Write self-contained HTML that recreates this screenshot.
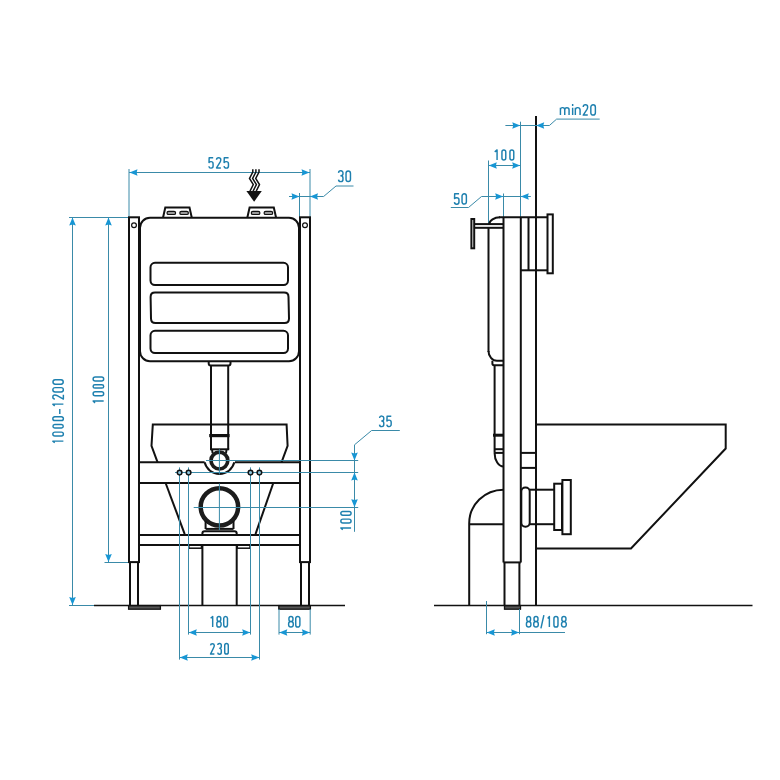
<!DOCTYPE html>
<html><head><meta charset="utf-8"><style>
html,body{margin:0;padding:0;background:#fff;}
svg{display:block;}
text{font-family:"Liberation Sans",sans-serif;}
</style></head><body>
<svg width="780" height="780" viewBox="0 0 780 780">
<rect width="780" height="780" fill="#fff"/>
<line x1="129" y1="169" x2="129" y2="217" stroke="#3a8aa8" stroke-width="1"/>
<line x1="310" y1="169" x2="310" y2="217" stroke="#3a8aa8" stroke-width="1"/>
<line x1="129" y1="172.5" x2="310" y2="172.5" stroke="#3a8aa8" stroke-width="1"/>
<polygon points="129.5,172.5 137.5,169.2 136.6,172.5 137.5,175.8" fill="#1796d4"/>
<polygon points="309.5,172.5 301.5,169.2 302.4,172.5 301.5,175.8" fill="#1796d4"/>
<path d="M213.18,157.72 H209.17 L209.02,162.52 C209.52,161.72 210.22,161.62 211,161.62 C212.68,161.62 213.08,162.52 213.08,163.72 V165.9 A2.08,2.08 0 0 1 208.92,166.21 M216.53,159.85 A2.12,2.12 0 0 1 220.78,159.85 C220.78,160.75 220.53,161.35 220.08,162.15 L216.53,167.97 H220.88 M228.57,157.72 H224.28 L224.12,162.52 C224.62,161.72 225.33,161.62 226.25,161.62 C228.07,161.62 228.47,162.52 228.47,163.72 V165.75 A2.22,2.22 0 0 1 224.03,166.08" stroke="#1e80af" stroke-width="1.45" fill="none" stroke-linecap="butt" stroke-linejoin="round"/>
<line x1="299.5" y1="193" x2="299.5" y2="217" stroke="#3a8aa8" stroke-width="1"/>
<polyline points="289,196.5 323.6,196.5 336,186 353.5,186" stroke="#3a8aa8" stroke-width="1" fill="none" stroke-linejoin="miter"/>
<polygon points="299.5,196.5 291.5,193.2 292.4,196.5 291.5,199.8" fill="#1796d4"/>
<polygon points="310,196.5 318,193.2 317.1,196.5 318,199.8" fill="#1796d4"/>
<path d="M338.53,172.82 A2.22,2.18 0 0 1 342.97,173.15 V173.67 C342.97,174.88 342.07,175.78 340.39,175.78 M340.39,175.78 H340.75 C342.67,175.78 342.97,176.78 342.97,177.98 V179.25 A2.22,2.22 0 0 1 338.53,179.58 M346.03,173.26 V179.14 A2.22,2.34 0 0 0 350.47,179.14 V173.26 A2.22,2.34 0 0 0 346.03,173.26 Z" stroke="#1e80af" stroke-width="1.45" fill="none" stroke-linecap="butt" stroke-linejoin="round"/>
<line x1="69" y1="217.5" x2="129" y2="217.5" stroke="#3a8aa8" stroke-width="1"/>
<line x1="72.5" y1="217" x2="72.5" y2="605.5" stroke="#3a8aa8" stroke-width="1"/>
<polygon points="72.5,217.5 69.2,225.5 72.5,224.6 75.8,225.5" fill="#1796d4"/>
<polygon points="72.5,605 69.2,597 72.5,597.9 75.8,597" fill="#1796d4"/>
<line x1="108.5" y1="217" x2="108.5" y2="562.5" stroke="#3a8aa8" stroke-width="1"/>
<polygon points="108.5,217.5 105.2,225.5 108.5,224.6 111.8,225.5" fill="#1796d4"/>
<polygon points="108.5,562 105.2,554 108.5,554.9 111.8,554" fill="#1796d4"/>
<line x1="69" y1="605.5" x2="94" y2="605.5" stroke="#3a8aa8" stroke-width="1"/>
<line x1="104.5" y1="562.5" x2="129" y2="562.5" stroke="#3a8aa8" stroke-width="1"/>
<path d="M1.23,2.62 L2.88,0.72 V11.28 M8.03,2.75 V9.25 A1.92,2.02 0 0 0 11.88,9.25 V2.75 A1.92,2.02 0 0 0 8.03,2.75 Z M15.92,2.64 V9.36 A1.83,1.92 0 0 0 19.57,9.36 V2.64 A1.83,1.92 0 0 0 15.92,2.64 Z M23.53,2.64 V9.36 A1.82,1.92 0 0 0 27.17,9.36 V2.64 A1.82,1.92 0 0 0 23.53,2.64 Z M30.1,7.68 H34.9 M38.12,2.62 L39.88,0.72 V11.28 M44.93,2.8 A2.07,2.07 0 0 1 49.07,2.8 C49.07,3.7 48.82,4.3 48.37,5.1 L44.93,11.28 H49.17 M52.02,3.01 V8.99 A2.18,2.28 0 0 0 56.38,8.99 V3.01 A2.18,2.28 0 0 0 52.02,3.01 Z M59.73,3.06 V8.94 A2.23,2.34 0 0 0 64.18,8.94 V3.06 A2.23,2.34 0 0 0 59.73,3.06 Z" stroke="#1e80af" stroke-width="1.45" fill="none" stroke-linecap="butt" stroke-linejoin="round" transform="translate(52.1,444) rotate(-90)"/>
<path d="M1.12,2.62 L2.98,0.72 V11.28 M8.32,2.75 V9.25 A1.93,2.02 0 0 0 12.18,9.25 V2.75 A1.93,2.02 0 0 0 8.32,2.75 Z M15.92,2.48 V9.52 A1.67,1.76 0 0 0 19.27,9.52 V2.48 A1.67,1.76 0 0 0 15.92,2.48 Z M23.03,2.85 V9.15 A2.02,2.13 0 0 0 27.07,9.15 V2.85 A2.02,2.13 0 0 0 23.03,2.85 Z" stroke="#1e80af" stroke-width="1.45" fill="none" stroke-linecap="butt" stroke-linejoin="round" transform="translate(92.4,404) rotate(-90)"/>
<polyline points="252.8,169.2 252.8,172 249.5,178.4 253.3,184.6 250,191.2" stroke="#111" stroke-width="1.5" fill="none" stroke-linejoin="miter"/>
<polyline points="255.9,169.2 255.9,172 252.6,178.4 256.40000000000003,184.6 253.1,191.2" stroke="#111" stroke-width="1.5" fill="none" stroke-linejoin="miter"/>
<polyline points="259.0,169.2 259.0,172 255.7,178.4 259.5,184.6 256.2,191.2" stroke="#111" stroke-width="1.5" fill="none" stroke-linejoin="miter"/>
<polygon points="246.4,191 261.8,191 254.1,201.8" fill="#111"/>
<polyline points="163,217.8 165.3,207.6 189.5,207.6 191.8,217.8" stroke="#111" stroke-width="2" fill="none" stroke-linejoin="miter"/>
<rect x="167" y="211.3" width="8.6" height="3.2" rx="1.6" stroke="#111" stroke-width="1.2" fill="#999"/>
<rect x="179.8" y="211.3" width="8.6" height="3.2" rx="1.6" stroke="#111" stroke-width="1.2" fill="#999"/>
<polyline points="247.3,217.8 249.60000000000002,207.6 273.8,207.6 276.1,217.8" stroke="#111" stroke-width="2" fill="none" stroke-linejoin="miter"/>
<rect x="251.3" y="211.3" width="8.6" height="3.2" rx="1.6" stroke="#111" stroke-width="1.2" fill="#999"/>
<rect x="264.1" y="211.3" width="8.6" height="3.2" rx="1.6" stroke="#111" stroke-width="1.2" fill="#999"/>
<rect x="129" y="217.3" width="10" height="344.8" rx="0" stroke="#111" stroke-width="2" fill="none"/>
<line x1="130" y1="562" x2="130" y2="605.5" stroke="#111" stroke-width="2"/>
<line x1="138" y1="562" x2="138" y2="605.5" stroke="#111" stroke-width="2"/>
<circle cx="134" cy="225.2" r="2.4" stroke="#111" stroke-width="1.2" fill="none"/>
<rect x="300" y="217.3" width="10" height="344.8" rx="0" stroke="#111" stroke-width="2" fill="none"/>
<line x1="301" y1="562" x2="301" y2="605.5" stroke="#111" stroke-width="2"/>
<line x1="309" y1="562" x2="309" y2="605.5" stroke="#111" stroke-width="2"/>
<circle cx="305" cy="225.2" r="2.4" stroke="#111" stroke-width="1.2" fill="none"/>
<rect x="128.6" y="605.6" width="31.8" height="3.6" rx="0" stroke="#111" stroke-width="1.3" fill="#555"/>
<rect x="278.8" y="605.6" width="31.6" height="3.6" rx="0" stroke="#111" stroke-width="1.3" fill="#555"/>
<line x1="94" y1="605.5" x2="345" y2="605.5" stroke="#111" stroke-width="1.7"/>
<rect x="140" y="217.8" width="159" height="143.4" rx="10" stroke="#111" stroke-width="2" fill="none"/>
<rect x="150.5" y="262.8" width="137.5" height="22.2" rx="4.5" stroke="#111" stroke-width="2" fill="none"/>
<polyline points="" stroke="#111" stroke-width="2" fill="none" stroke-linejoin="miter"/>
<path d="M155,292.6 L284,292.6 Q288.5,292.6 288.5,297 L289,318.5 Q289,323 284.5,323 L155.5,323 Q151,323 151,318.5 L150.6,297 Q150.6,292.6 155,292.6 Z" stroke="#111" stroke-width="2" fill="none" />
<rect x="150.5" y="330.8" width="137.5" height="22.2" rx="4.5" stroke="#111" stroke-width="2" fill="none"/>
<path d="M208.7,361 L208.7,363.6 Q208.7,365.6 210.7,365.6 L228.5,365.6 Q230.5,365.6 230.5,363.6 L230.5,361" stroke="#111" stroke-width="2" fill="none" />
<line x1="211" y1="365.6" x2="211" y2="449.3" stroke="#111" stroke-width="2"/>
<line x1="228.2" y1="365.6" x2="228.2" y2="449.3" stroke="#111" stroke-width="2"/>
<line x1="210" y1="449.3" x2="229.2" y2="449.3" stroke="#111" stroke-width="2"/>
<line x1="209.2" y1="435.6" x2="229.6" y2="435.6" stroke="#111" stroke-width="3.2"/>
<polyline points="157.6,462.3 151.5,445.8 152.8,424.6 286.6,424.6 287.6,445.8 281.5,462.3" stroke="#111" stroke-width="2" fill="none" stroke-linejoin="miter"/>
<line x1="139" y1="462.3" x2="204.6" y2="462.3" stroke="#111" stroke-width="2"/>
<line x1="235" y1="462.3" x2="300" y2="462.3" stroke="#111" stroke-width="2"/>
<path d="M204.6,462.3 A15.3,15.3 0 0 0 234.3,462.3" stroke="#111" stroke-width="2" fill="none" />
<line x1="139" y1="483" x2="300" y2="483" stroke="#111" stroke-width="2"/>
<circle cx="219.4" cy="460.6" r="8.4" stroke="#1c1c1c" stroke-width="3.7" fill="#fff"/>
<line x1="212" y1="449.3" x2="212.6" y2="453" stroke="#111" stroke-width="2"/>
<line x1="226.6" y1="449.3" x2="226" y2="453" stroke="#111" stroke-width="2"/>
<line x1="165.6" y1="483" x2="184.7" y2="534.2" stroke="#111" stroke-width="2"/>
<line x1="273.3" y1="483" x2="255.5" y2="534.2" stroke="#111" stroke-width="2"/>
<circle cx="219.4" cy="506.9" r="18.7" stroke="#1c1c1c" stroke-width="4.5" fill="#fff"/>
<path d="M205.6,521 L205.6,529 M233.5,521 L233.5,529" stroke="#111" stroke-width="2" fill="none" />
<line x1="205.6" y1="528.9" x2="233.5" y2="528.9" stroke="#111" stroke-width="2"/>
<path d="M202.4,535 L202.4,533.6 Q202.4,531.3 204.7,531.3 L234.4,531.3 Q236.7,531.3 236.7,533.6 L236.7,535" stroke="#111" stroke-width="2" fill="none" />
<line x1="139" y1="535" x2="300" y2="535" stroke="#111" stroke-width="2"/>
<line x1="139" y1="545" x2="300" y2="545" stroke="#111" stroke-width="2"/>
<line x1="202.4" y1="545" x2="202.4" y2="605.5" stroke="#111" stroke-width="2"/>
<line x1="236.7" y1="545" x2="236.7" y2="605.5" stroke="#111" stroke-width="2"/>
<rect x="188.8" y="545" width="12.7" height="3.2" rx="0" stroke="#111" stroke-width="1.5" fill="none"/>
<rect x="237.3" y="545" width="12.7" height="3.2" rx="0" stroke="#111" stroke-width="1.5" fill="none"/>
<line x1="219.4" y1="449.3" x2="219.4" y2="474.5" stroke="#3a8aa8" stroke-width="1"/>
<line x1="206" y1="460.5" x2="358.2" y2="460.5" stroke="#3a8aa8" stroke-width="1"/>
<line x1="175" y1="472.5" x2="358.2" y2="472.5" stroke="#3a8aa8" stroke-width="1"/>
<line x1="219.4" y1="483.5" x2="219.4" y2="530" stroke="#3a8aa8" stroke-width="1"/>
<line x1="193.7" y1="507.5" x2="358.2" y2="507.5" stroke="#3a8aa8" stroke-width="1"/>
<line x1="179.5" y1="467.4" x2="179.5" y2="659.6" stroke="#3a8aa8" stroke-width="1"/>
<line x1="259.5" y1="467.4" x2="259.5" y2="659.6" stroke="#3a8aa8" stroke-width="1"/>
<line x1="188.5" y1="467.4" x2="188.5" y2="634.6" stroke="#3a8aa8" stroke-width="1"/>
<line x1="250.5" y1="467.4" x2="250.5" y2="634.6" stroke="#3a8aa8" stroke-width="1"/>
<circle cx="179.6" cy="472.6" r="2.3" stroke="#111" stroke-width="1.5" fill="#8cc4dc"/>
<circle cx="188.6" cy="472.6" r="2.3" stroke="#111" stroke-width="1.5" fill="#8cc4dc"/>
<circle cx="250.5" cy="472.6" r="2.3" stroke="#111" stroke-width="1.5" fill="#8cc4dc"/>
<circle cx="259.4" cy="472.6" r="2.3" stroke="#111" stroke-width="1.5" fill="#8cc4dc"/>
<line x1="279" y1="609" x2="279" y2="634.6" stroke="#3a8aa8" stroke-width="1"/>
<line x1="310.2" y1="609" x2="310.2" y2="634.6" stroke="#3a8aa8" stroke-width="1"/>
<line x1="188.5" y1="632.5" x2="250.5" y2="632.5" stroke="#3a8aa8" stroke-width="1"/>
<polygon points="188.8,632.5 196.8,629.2 195.9,632.5 196.8,635.8" fill="#1796d4"/>
<polygon points="250.2,632.5 242.2,629.2 243.1,632.5 242.2,635.8" fill="#1796d4"/>
<line x1="179.5" y1="657.5" x2="259.5" y2="657.5" stroke="#3a8aa8" stroke-width="1"/>
<polygon points="179.8,657.5 187.8,654.2 186.9,657.5 187.8,660.8" fill="#1796d4"/>
<polygon points="259.2,657.5 251.2,654.2 252.1,657.5 251.2,660.8" fill="#1796d4"/>
<line x1="279" y1="632.5" x2="310.2" y2="632.5" stroke="#3a8aa8" stroke-width="1"/>
<polygon points="279.3,632.5 287.3,629.2 286.40000000000003,632.5 287.3,635.8" fill="#1796d4"/>
<polygon points="309.9,632.5 301.9,629.2 302.79999999999995,632.5 301.9,635.8" fill="#1796d4"/>
<path d="M210.62,618.33 L212.68,616.43 V627.08 M217.12,618.25 V619.6 A1.83,1.83 0 0 0 220.78,619.6 V618.25 A1.83,1.83 0 0 0 217.12,618.25 Z M216.82,623.56 V624.95 A2.13,2.13 0 0 0 221.08,624.95 V623.56 A2.13,2.13 0 0 0 216.82,623.56 Z M223.72,618.39 V625.11 A1.88,1.97 0 0 0 227.47,625.11 V618.39 A1.88,1.97 0 0 0 223.72,618.39 Z" stroke="#1e80af" stroke-width="1.45" fill="none" stroke-linecap="butt" stroke-linejoin="round"/>
<path d="M210.53,645.4 A1.88,1.88 0 0 1 214.28,645.4 C214.28,646.3 214.03,646.9 213.58,647.7 L210.53,654.07 H214.38 M217.72,645.03 A1.78,1.74 0 0 1 221.28,645.3 V646.27 C221.28,647.48 220.38,648.38 219.22,648.38 M219.22,648.38 H219.5 C220.97,648.38 221.28,649.38 221.28,650.58 V652.3 A1.78,1.78 0 0 1 217.72,652.57 M224.72,645.39 V652.21 A1.78,1.86 0 0 0 228.28,652.21 V645.39 A1.78,1.86 0 0 0 224.72,645.39 Z" stroke="#1e80af" stroke-width="1.45" fill="none" stroke-linecap="butt" stroke-linejoin="round"/>
<path d="M288.95,618.42 V619.43 A2,2 0 0 0 292.95,619.43 V618.42 A2,2 0 0 0 288.95,618.42 Z M288.62,623.76 V624.75 A2.32,2.32 0 0 0 293.27,624.75 V623.76 A2.32,2.32 0 0 0 288.62,623.76 Z M295.73,618.6 V624.9 A2.07,2.18 0 0 0 299.88,624.9 V618.6 A2.07,2.18 0 0 0 295.73,618.6 Z" stroke="#1e80af" stroke-width="1.45" fill="none" stroke-linecap="butt" stroke-linejoin="round"/>
<polyline points="399.8,430.5 371.6,430.5 354.5,444.8 354.5,531.8" stroke="#3a8aa8" stroke-width="1" fill="none" stroke-linejoin="miter"/>
<polygon points="354.5,460.5 351.2,452.5 354.5,453.4 357.8,452.5" fill="#1796d4"/>
<polygon points="354.5,472.5 351.2,480.5 354.5,479.6 357.8,480.5" fill="#1796d4"/>
<polygon points="354.5,507.2 351.2,499.2 354.5,500.09999999999997 357.8,499.2" fill="#1796d4"/>
<path d="M379.53,418.03 A2.12,2.08 0 0 1 383.77,418.35 V418.89 C383.77,420.04 382.88,420.94 381.31,420.94 M381.31,420.94 H381.65 C383.47,420.94 383.77,421.94 383.77,423.14 V424.35 A2.12,2.12 0 0 1 379.53,424.67 M391.27,416.23 H387.08 L386.93,421.02 C387.43,420.22 388.13,420.12 389,420.12 C390.77,420.12 391.17,421.02 391.17,422.22 V424.3 A2.17,2.17 0 0 1 386.83,424.63" stroke="#1e80af" stroke-width="1.45" fill="none" stroke-linecap="butt" stroke-linejoin="round"/>
<path d="M1.32,2.62 L2.98,0.72 V10.97 M7.92,2.8 V8.9 A1.98,2.07 0 0 0 11.88,8.9 V2.8 A1.98,2.07 0 0 0 7.92,2.8 Z M15.82,2.64 V9.06 A1.82,1.92 0 0 0 19.47,9.06 V2.64 A1.82,1.92 0 0 0 15.82,2.64 Z" stroke="#1e80af" stroke-width="1.45" fill="none" stroke-linecap="butt" stroke-linejoin="round" transform="translate(340.1,531) rotate(-90)"/>
<line x1="536" y1="116" x2="536" y2="605.5" stroke="#111" stroke-width="2"/>
<polyline points="599.7,119.1 556.6,119.1 549.4,125.5 505.4,125.5" stroke="#3a8aa8" stroke-width="1" fill="none" stroke-linejoin="miter"/>
<polygon points="520.3,125.5 512.3,122.2 513.1999999999999,125.5 512.3,128.8" fill="#1796d4"/>
<polygon points="536.2,125.5 544.2,122.2 543.3000000000001,125.5 544.2,128.8" fill="#1796d4"/>
<path d="M560.43,115.08 V107.72 M560.43,109.67 A2.16,2.16 0 0 1 564.75,109.89 V115.08 M564.75,109.89 A2.16,2.16 0 0 1 569.07,109.89 V115.08 M572.65,115.08 V107.72 M572.65,104.1 V105.9 M575.33,115.08 V107.72 M575.33,109.86 A2.37,2.37 0 0 1 580.07,110.1 V115.08 M583.23,107.05 A2.22,2.22 0 0 1 587.67,107.05 C587.67,107.95 587.42,108.55 586.97,109.35 L583.23,115.08 H587.77 M590.83,107.21 V112.69 A2.27,2.39 0 0 0 595.38,112.69 V107.21 A2.27,2.39 0 0 0 590.83,107.21 Z" stroke="#1e80af" stroke-width="1.45" fill="none" stroke-linecap="butt" stroke-linejoin="round"/>
<line x1="520.5" y1="121.7" x2="520.5" y2="217" stroke="#3a8aa8" stroke-width="1"/>
<line x1="488.5" y1="160.5" x2="488.5" y2="224" stroke="#3a8aa8" stroke-width="1"/>
<line x1="488.5" y1="165.5" x2="520.5" y2="165.5" stroke="#3a8aa8" stroke-width="1"/>
<polygon points="488.8,165.5 496.8,162.2 495.90000000000003,165.5 496.8,168.8" fill="#1796d4"/>
<polygon points="520.2,165.5 512.2,162.2 513.1,165.5 512.2,168.8" fill="#1796d4"/>
<path d="M494.73,151.82 L497.07,149.92 V159.97 M501.93,151.95 V157.95 A1.92,2.02 0 0 0 505.77,157.95 V151.95 A1.92,2.02 0 0 0 501.93,151.95 Z M509.93,151.95 V157.95 A1.92,2.02 0 0 0 513.77,157.95 V151.95 A1.92,2.02 0 0 0 509.93,151.95 Z" stroke="#1e80af" stroke-width="1.45" fill="none" stroke-linecap="butt" stroke-linejoin="round"/>
<polyline points="450.8,207.5 468.5,207.5 481.5,196.5 530.8,196.5" stroke="#3a8aa8" stroke-width="1" fill="none" stroke-linejoin="miter"/>
<line x1="503.5" y1="193.5" x2="503.5" y2="217" stroke="#3a8aa8" stroke-width="1"/>
<polygon points="503.2,196.5 495.2,193.2 496.09999999999997,196.5 495.2,199.8" fill="#1796d4"/>
<polygon points="520.8,196.5 528.8,193.2 527.9,196.5 528.8,199.8" fill="#1796d4"/>
<path d="M459.07,193.82 H454.68 L454.53,198.62 C455.03,197.82 455.73,197.72 456.7,197.72 C458.57,197.72 458.97,198.62 458.97,199.82 V201.8 A2.27,2.27 0 0 1 454.43,202.14 M462.03,196.11 V201.79 A2.17,2.28 0 0 0 466.38,201.79 V196.11 A2.17,2.28 0 0 0 462.03,196.11 Z" stroke="#1e80af" stroke-width="1.45" fill="none" stroke-linecap="butt" stroke-linejoin="round"/>
<rect x="471.4" y="219" width="2.8" height="29.3" rx="0" stroke="#111" stroke-width="2" fill="none"/>
<line x1="474.2" y1="224.1" x2="503.5" y2="224.1" stroke="#111" stroke-width="2"/>
<line x1="474.2" y1="227.8" x2="503.5" y2="227.8" stroke="#111" stroke-width="2"/>
<path d="M489.3,224.1 A11,7 0 0 1 500,217.3" stroke="#111" stroke-width="2" fill="none" />
<line x1="499" y1="217.3" x2="547.6" y2="217.3" stroke="#111" stroke-width="2"/>
<line x1="488.5" y1="227.8" x2="488.5" y2="352" stroke="#111" stroke-width="2"/>
<path d="M488.5,351 A8.5,9.8 0 0 0 497,360.8 L503.5,360.8" stroke="#111" stroke-width="2" fill="none" />
<path d="M503.5,365.2 L494,365.2 Q492.4,365.2 492.4,363.5 L492.4,360.8" stroke="#111" stroke-width="2" fill="none" />
<line x1="494.6" y1="365.2" x2="494.6" y2="452.9" stroke="#111" stroke-width="2"/>
<line x1="493" y1="435.2" x2="503.5" y2="435.2" stroke="#111" stroke-width="3"/>
<line x1="494.6" y1="449.2" x2="503.5" y2="449.2" stroke="#111" stroke-width="2"/>
<line x1="494.6" y1="452.9" x2="503.5" y2="452.9" stroke="#111" stroke-width="2"/>
<path d="M494.6,452.9 A8.9,13.6 0 0 0 503.5,466.5" stroke="#111" stroke-width="2" fill="none" />
<line x1="503.5" y1="217.3" x2="503.5" y2="562.4" stroke="#111" stroke-width="2"/>
<line x1="520.8" y1="217.3" x2="520.8" y2="562.4" stroke="#111" stroke-width="2"/>
<line x1="503.5" y1="562.4" x2="520.8" y2="562.4" stroke="#111" stroke-width="2"/>
<line x1="504.5" y1="562.4" x2="504.5" y2="605.5" stroke="#111" stroke-width="2"/>
<line x1="519.4" y1="562.4" x2="519.4" y2="605.5" stroke="#111" stroke-width="2"/>
<rect x="504.5" y="605.6" width="16" height="3.6" rx="0" stroke="#111" stroke-width="1.3" fill="#555"/>
<line x1="528.5" y1="217.3" x2="528.5" y2="270.3" stroke="#111" stroke-width="2"/>
<line x1="520.8" y1="270.3" x2="547.6" y2="270.3" stroke="#111" stroke-width="2"/>
<rect x="547.5" y="214.4" width="5.3" height="58.9" rx="0" stroke="#111" stroke-width="2" fill="none"/>
<line x1="520.8" y1="452.9" x2="536" y2="452.9" stroke="#111" stroke-width="2"/>
<line x1="520.8" y1="467.9" x2="536" y2="467.9" stroke="#111" stroke-width="2"/>
<path d="M469.2,605.5 L469.2,523.3 A34.3,33.6 0 0 1 503.5,489.7" stroke="#111" stroke-width="2" fill="none" />
<line x1="469.2" y1="524.2" x2="503.5" y2="524.2" stroke="#111" stroke-width="2"/>
<rect x="521.3" y="487.5" width="8.4" height="39.2" rx="4" stroke="#111" stroke-width="2" fill="none"/>
<line x1="529.7" y1="489.7" x2="554.2" y2="489.7" stroke="#111" stroke-width="2"/>
<line x1="529.7" y1="524.2" x2="554.2" y2="524.2" stroke="#111" stroke-width="2"/>
<rect x="554.2" y="483.7" width="7.8" height="46.3" rx="0" stroke="#111" stroke-width="2" fill="none"/>
<rect x="562.4" y="480" width="8.4" height="54.2" rx="0" stroke="#111" stroke-width="2" fill="none"/>
<polyline points="536,424.6 725.7,424.6 725.7,448.5 631,548.5 536,548.5" stroke="#111" stroke-width="2" fill="none" stroke-linejoin="miter"/>
<line x1="434" y1="605.5" x2="752.5" y2="605.5" stroke="#111" stroke-width="1.7"/>
<line x1="486.5" y1="601" x2="486.5" y2="634.2" stroke="#3a8aa8" stroke-width="1"/>
<line x1="519.5" y1="609" x2="519.5" y2="634.2" stroke="#3a8aa8" stroke-width="1"/>
<line x1="486.5" y1="632.5" x2="565" y2="632.5" stroke="#3a8aa8" stroke-width="1"/>
<polygon points="486.8,632.5 494.8,629.2 493.90000000000003,632.5 494.8,635.8" fill="#1796d4"/>
<polygon points="519.1,632.5 511.1,629.2 512.0,632.5 511.1,635.8" fill="#1796d4"/>
<path d="M526.74,618.44 V619.57 A1.91,1.91 0 0 0 530.56,619.57 V618.44 A1.91,1.91 0 0 0 526.74,618.44 Z M526.43,623.71 V624.85 A2.22,2.22 0 0 0 530.88,624.85 V623.71 A2.22,2.22 0 0 0 526.43,623.71 Z M534.04,618.48 V619.53 A1.96,1.96 0 0 0 537.96,619.53 V618.48 A1.96,1.96 0 0 0 534.04,618.48 Z M533.73,623.76 V624.8 A2.27,2.27 0 0 0 538.27,624.8 V623.76 A2.27,2.27 0 0 0 533.73,623.76 Z M547.73,618.42 L549.38,616.52 V627.07 M553.93,618.65 V624.95 A2.02,2.13 0 0 0 557.98,624.95 V618.65 A2.02,2.13 0 0 0 553.93,618.65 Z M561.86,618.57 V619.44 A2.04,2.04 0 0 0 565.94,619.44 V618.57 A2.04,2.04 0 0 0 561.86,618.57 Z M561.52,623.86 V624.7 A2.38,2.38 0 0 0 566.27,624.7 V623.86 A2.38,2.38 0 0 0 561.52,623.86 Z" stroke="#1e80af" stroke-width="1.45" fill="none" stroke-linecap="butt" stroke-linejoin="round"/>
<path d="M543.88,615.1 L540.93,628.4" stroke="#1e80af" stroke-width="1.45" fill="none" stroke-linecap="butt" stroke-linejoin="round"/>
</svg></body></html>
